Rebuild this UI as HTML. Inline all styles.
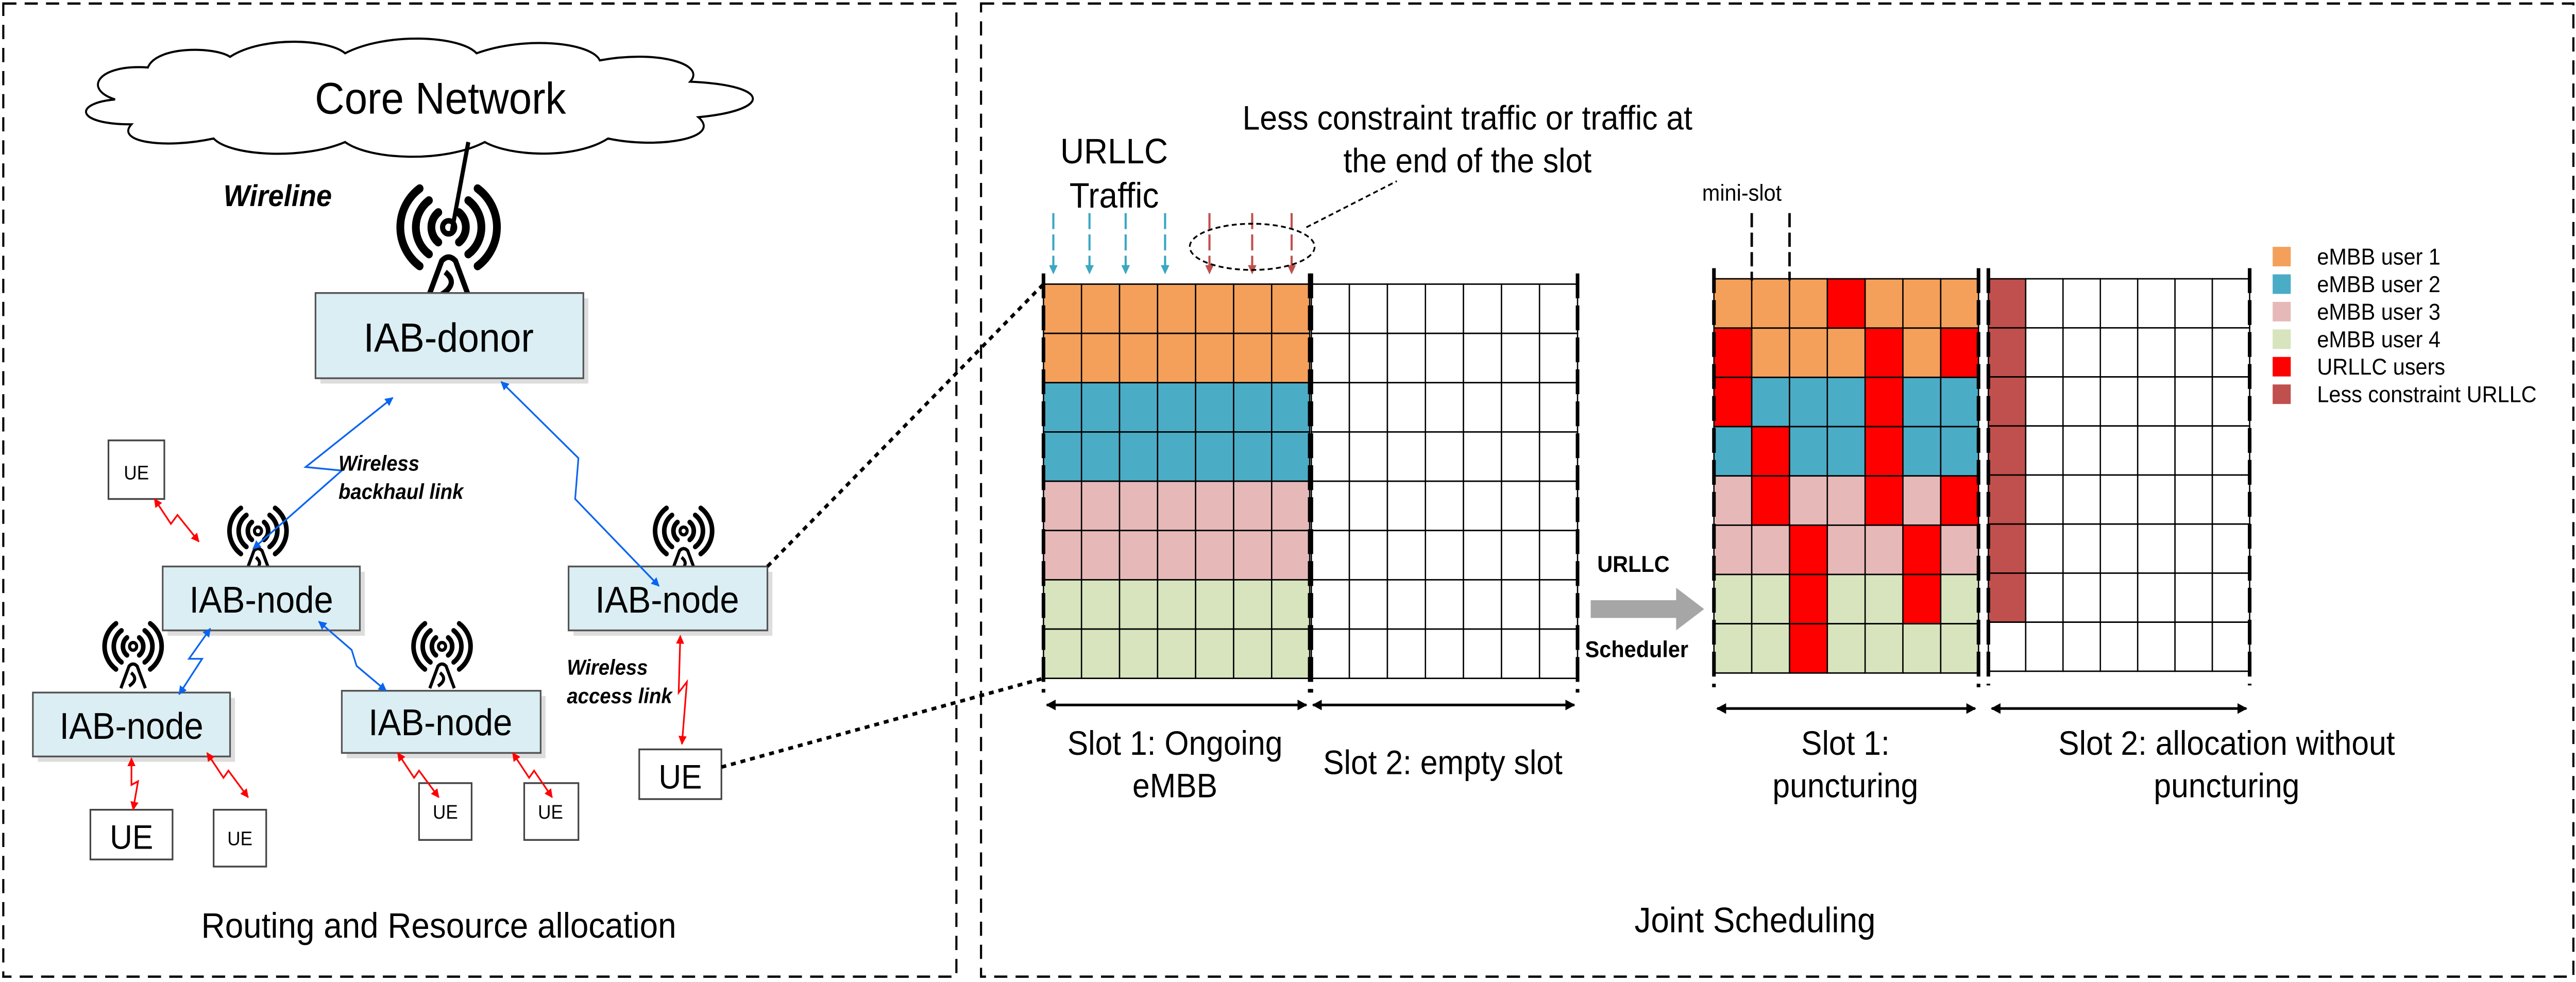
<!DOCTYPE html>
<html><head><meta charset="utf-8"><style>
html,body{margin:0;padding:0;background:#fff;overflow:hidden;width:5400px;height:1906px;}
svg{display:block;font-family:"Liberation Sans",sans-serif;}
</style></head><body>
<svg id="fig" width="5400" height="1906" viewBox="0 0 1693 553" preserveAspectRatio="none" xmlns="http://www.w3.org/2000/svg">
<defs>
<marker id="ab" viewBox="0 0 10 10" refX="9" refY="5" markerWidth="5" markerHeight="5" orient="auto-start-reverse"><path d="M0,0L10,5L0,10z" fill="#0a64f0"/></marker>
<marker id="ar" viewBox="0 0 10 10" refX="9" refY="5" markerWidth="5" markerHeight="5" orient="auto-start-reverse"><path d="M0,0L10,5L0,10z" fill="#f00"/></marker>
<marker id="ak" viewBox="0 0 10 10" refX="9" refY="5" markerWidth="4" markerHeight="4" orient="auto-start-reverse"><path d="M0,0L10,5L0,10z" fill="#000"/></marker>
<marker id="acy" viewBox="0 0 10 10" refX="9" refY="5" markerWidth="4" markerHeight="5" orient="auto"><path d="M0,0L10,5L0,10z" fill="#3aa8c1"/></marker>
<marker id="abr" viewBox="0 0 10 10" refX="9" refY="5" markerWidth="4" markerHeight="5" orient="auto"><path d="M0,0L10,5L0,10z" fill="#c0504d"/></marker>
</defs>
<rect x="2" y="2" width="580" height="548" fill="none" stroke="#000" stroke-width="1.3" stroke-dasharray="8,5"/>
<rect x="597" y="2" width="969" height="548" fill="none" stroke="#000" stroke-width="1.3" stroke-dasharray="8,5"/>

<g>
<path d="M70,56 C50,50 60,36 90,38 C95,26 130,26 140,32 C160,20 200,22 210,30 C235,18 280,20 290,30 C320,20 360,24 365,34 C400,28 430,36 420,46 C470,48 470,62 425,66 C440,78 400,84 370,78 C350,90 310,88 295,80 C270,92 225,90 210,80 C185,90 140,88 130,78 C100,84 70,80 80,70 C45,70 45,58 70,56 Z" fill="#fff" stroke="#000" stroke-width="1.2"/>
<text x="268" y="64" font-size="25" text-anchor="middle">Core Network</text>
</g>
<line x1="285" y1="80" x2="275" y2="130" stroke="#000" stroke-width="2.5"/>
<text x="136" y="116" font-size="17" font-weight="bold" font-style="italic">Wireline</text>

<g id="ants"></g>

<g><rect x="195" y="168" width="163" height="48" fill="#ddd"/><rect x="192" y="165" width="163" height="48" fill="#DAEEF3" stroke="#555"/><text x="273" y="198" font-size="23" text-anchor="middle">IAB-donor</text></g>
<g><rect x="102" y="322" width="120" height="36" fill="#ddd"/><rect x="99" y="319" width="120" height="36" fill="#DAEEF3" stroke="#555"/><text x="159" y="345" font-size="21" text-anchor="middle">IAB-node</text></g>
<g><rect x="349" y="322" width="121" height="36" fill="#ddd"/><rect x="346" y="319" width="121" height="36" fill="#DAEEF3" stroke="#555"/><text x="406" y="345" font-size="21" text-anchor="middle">IAB-node</text></g>
<g><rect x="23" y="393" width="120" height="36" fill="#ddd"/><rect x="20" y="390" width="120" height="36" fill="#DAEEF3" stroke="#555"/><text x="80" y="416" font-size="21" text-anchor="middle">IAB-node</text></g>
<g><rect x="211" y="392" width="121" height="35" fill="#ddd"/><rect x="208" y="389" width="121" height="35" fill="#DAEEF3" stroke="#555"/><text x="268" y="414" font-size="21" text-anchor="middle">IAB-node</text></g>

<g><rect x="66" y="248" width="34" height="33" fill="#fff" stroke="#444"/><text x="83" y="270" font-size="11" text-anchor="middle">UE</text></g>
<g><rect x="389" y="422" width="50" height="28" fill="#fff" stroke="#444"/><text x="414" y="444" font-size="19" text-anchor="middle">UE</text></g>
<g><rect x="55" y="456" width="50" height="28" fill="#fff" stroke="#444"/><text x="80" y="478" font-size="19" text-anchor="middle">UE</text></g>
<g><rect x="130" y="456" width="32" height="32" fill="#fff" stroke="#444"/><text x="146" y="476" font-size="11" text-anchor="middle">UE</text></g>
<g><rect x="255" y="441" width="32" height="32" fill="#fff" stroke="#444"/><text x="271" y="461" font-size="11" text-anchor="middle">UE</text></g>
<g><rect x="319" y="441" width="33" height="32" fill="#fff" stroke="#444"/><text x="335" y="461" font-size="11" text-anchor="middle">UE</text></g>

<g fill="none" stroke-width="1">
<polyline points="239,224 186,263 208,265 154,309" stroke="#0a64f0" marker-start="url(#ab)" marker-end="url(#ab)"/>
<polyline points="305,215 352,258 350,281 401,330" stroke="#0a64f0" marker-start="url(#ab)" marker-end="url(#ab)"/>
<polyline points="128,354 115,371 123,371 109,391" stroke="#0a64f0" marker-start="url(#ab)" marker-end="url(#ab)"/>
<polyline points="194,350 214,366 217,375 235,389" stroke="#0a64f0" marker-start="url(#ab)" marker-end="url(#ab)"/>
<polyline points="94,281 104,295 108,290 121,305" stroke="#f00" marker-start="url(#ar)" marker-end="url(#ar)"/>
<polyline points="414,358 413,390 418,384 415,419" stroke="#f00" marker-start="url(#ar)" marker-end="url(#ar)"/>
<polyline points="80,427 80,442 84,440 81,456" stroke="#f00" marker-start="url(#ar)" marker-end="url(#ar)"/>
<polyline points="126,424 136,438 139,434 151,449" stroke="#f00" marker-start="url(#ar)" marker-end="url(#ar)"/>
<polyline points="242,424 252,438 255,434 267,449" stroke="#f00" marker-start="url(#ar)" marker-end="url(#ar)"/>
<polyline points="312,424 322,438 325,434 336,449" stroke="#f00" marker-start="url(#ar)" marker-end="url(#ar)"/>
</g>
<text font-size="12" font-weight="bold" font-style="italic"><tspan x="206" y="265">Wireless</tspan><tspan x="206" y="281">backhaul link</tspan></text>
<text font-size="12" font-weight="bold" font-style="italic"><tspan x="345" y="380">Wireless</tspan><tspan x="345" y="396">access link</tspan></text>
<text x="267" y="528" font-size="20" text-anchor="middle">Routing and Resource allocation</text>

<line x1="467" y1="319" x2="635" y2="160" stroke="#000" stroke-width="2" stroke-dasharray="3,3"/>
<line x1="439" y1="432" x2="635" y2="382" stroke="#000" stroke-width="2" stroke-dasharray="3,3"/>

<text font-size="20" text-anchor="middle"><tspan x="678" y="92">URLLC</tspan><tspan x="678" y="117">Traffic</tspan></text>
<text font-size="19" text-anchor="middle"><tspan x="893" y="73">Less constraint traffic or traffic at</tspan><tspan x="893" y="97">the end of the slot</tspan></text>
<g id="traffic"></g>
<ellipse cx="762" cy="139" rx="38" ry="13" fill="none" stroke="#000" stroke-dasharray="3,2"/>
<line x1="795" y1="128" x2="850" y2="102" stroke="#000" stroke-dasharray="3,2"/>

<g id="grids"></g>

<g><path d="M968,338 L1020,338 L1020,331 L1037,343 L1020,355 L1020,348 L968,348 Z" fill="#a6a6a6"/>
<text x="994" y="322" font-size="13" font-weight="bold" text-anchor="middle">URLLC</text><text x="996" y="370" font-size="13" font-weight="bold" text-anchor="middle">Scheduler</text></g>
<text x="1060" y="113" font-size="13" text-anchor="middle">mini-slot</text>
<line x1="1066" y1="120" x2="1066" y2="158" stroke="#000" stroke-width="1.5" stroke-dasharray="8,3"/>
<line x1="1089" y1="120" x2="1089" y2="158" stroke="#000" stroke-width="1.5" stroke-dasharray="8,3"/>

<g stroke="#000" stroke-width="1.5">
<line x1="637" y1="397" x2="795" y2="397" marker-start="url(#ak)" marker-end="url(#ak)"/>
<line x1="799" y1="397" x2="958" y2="397" marker-start="url(#ak)" marker-end="url(#ak)"/>
<line x1="1045" y1="399" x2="1202" y2="399" marker-start="url(#ak)" marker-end="url(#ak)"/>
<line x1="1212" y1="399" x2="1367" y2="399" marker-start="url(#ak)" marker-end="url(#ak)"/>
</g>
<text font-size="19" text-anchor="middle"><tspan x="715" y="425">Slot 1: Ongoing</tspan><tspan x="715" y="449">eMBB</tspan></text>
<text x="878" y="436" font-size="19" text-anchor="middle">Slot 2: empty slot</text>
<text font-size="19" text-anchor="middle"><tspan x="1123" y="425">Slot 1:</tspan><tspan x="1123" y="449">puncturing</tspan></text>
<text font-size="19" text-anchor="middle"><tspan x="1355" y="425">Slot 2: allocation without</tspan><tspan x="1355" y="449">puncturing</tspan></text>

<g id="legend"></g>
<text x="1068" y="525" font-size="20" text-anchor="middle">Joint Scheduling</text>
</svg>
<script>
// Data
const userColors = ["#F4A05A","#4BACC6","#E6B9B8","#D7E4BD"];
const rowUsers = [0,0,1,1,2,2,3,3];
const puncturedCells = [[0,3],[1,0],[1,4],[1,6],[2,0],[2,4],[3,1],[3,4],[4,1],[4,4],[4,6],[5,2],[5,5],[6,2],[6,5],[7,2]];
const lessConstraintRows = [0,1,2,3,4,5,6];
const legendLabels = ["eMBB user 1","eMBB user 2","eMBB user 3","eMBB user 4","URLLC users","Less constraint URLLC"];
const legendColors = ["#F4A05A","#4BACC6","#E6B9B8","#D7E4BD","#FF0000","#C0504D"];
const urllcArrowsX = [641,663,685,709];
const lessArrowsX = [736,762,786];

const NS="http://www.w3.org/2000/svg";
function mk(tag,attrs,parent){const e=document.createElementNS(NS,tag);for(const k in attrs)e.setAttribute(k,attrs[k]);parent.appendChild(e);return e;}

const ants=document.getElementById('ants');
function antenna(cx,cy,s){
  const g=mk('g',{transform:`translate(${cx},${cy}) scale(${s})`},ants);
  
  
  const st={fill:'none',stroke:'#000','stroke-width':4.5,'stroke-linecap':'round'};
  [[10,10],[19,18],[28,26]].forEach(([r,ry])=>{
    mk('path',Object.assign({d:`M${-r*0.6},${-ry*0.8} A${r},${ry} 0 0 0 ${-r*0.6},${ry*0.8}`},st),g);
    mk('path',Object.assign({d:`M${r*0.6},${-ry*0.8} A${r},${ry} 0 0 1 ${r*0.6},${ry*0.8}`},st),g);
  });
  mk('circle',{cx:0,cy:0,r:3.5,fill:'none',stroke:'#000','stroke-width':3},g);
  mk('path',{d:'M-12,38 L-4,18 Q0,14 4,18 L12,38 M-4,36 Q6,30 -2,24',fill:'none',stroke:'#000','stroke-width':3},g);
}
antenna(273,128,1.05);antenna(157,299,0.62);antenna(416,299,0.62);antenna(81,364,0.62);antenna(269,364,0.62);

const tr=document.getElementById('traffic');
urllcArrowsX.forEach(x=>{const l=mk('line',{x1:x,y1:120,x2:x,y2:154,stroke:'#3aa8c1','stroke-width':1.3,'stroke-dasharray':'9,3','marker-end':'url(#acy)'},tr);

});
lessArrowsX.forEach(x=>{const l=mk('line',{x1:x,y1:120,x2:x,y2:154,stroke:'#c0504d','stroke-width':1.3,'stroke-dasharray':'9,3','marker-end':'url(#abr)'},tr);

});

const gr=document.getElementById('grids');
function grid(x0,y0,w,h,colorFn,name){
  const g=mk('g',{},gr);
  
  
  const cw=w/7,ch=h/8;
  for(let r=0;r<8;r++)for(let c=0;c<7;c++){
    const cell=mk('rect',{x:x0+c*cw,y:y0+r*ch,width:cw,height:ch,fill:colorFn(r,c),stroke:'#000','stroke-width':0.8},g);
    
    
  }
  [x0,x0+w].forEach(x=>mk('line',{x1:x,y1:y0-6,x2:x,y2:y0+h+8,stroke:'#000','stroke-width':2.2,'stroke-dasharray':'14,4'},g));
}
const punctSet=new Set(puncturedCells.map(p=>p[0]+','+p[1]));
grid(635,160,162,222,(r,c)=>userColors[rowUsers[r]],'slot1-ongoing-grid');
grid(798,160,162,222,()=>'#fff','slot2-empty-grid');
grid(1043,157,161,222,(r,c)=>punctSet.has(r+','+c)?'#FF0000':userColors[rowUsers[r]],'slot1-punctured-grid');
grid(1210,157,159,221,(r,c)=>(c===0&&lessConstraintRows.includes(r))?'#C0504D':'#fff','slot2-allocation-grid');

const lg=document.getElementById('legend');
legendLabels.forEach((lab,i)=>{
  const g=mk('g',{},lg);
  
  
  mk('rect',{x:1383,y:139+i*15.5,width:11,height:11,fill:legendColors[i]},g);
  const t=mk('text',{x:1410,y:149+i*15.5,'font-size':13},g);t.textContent=lab;
});
</script>
</body></html>
